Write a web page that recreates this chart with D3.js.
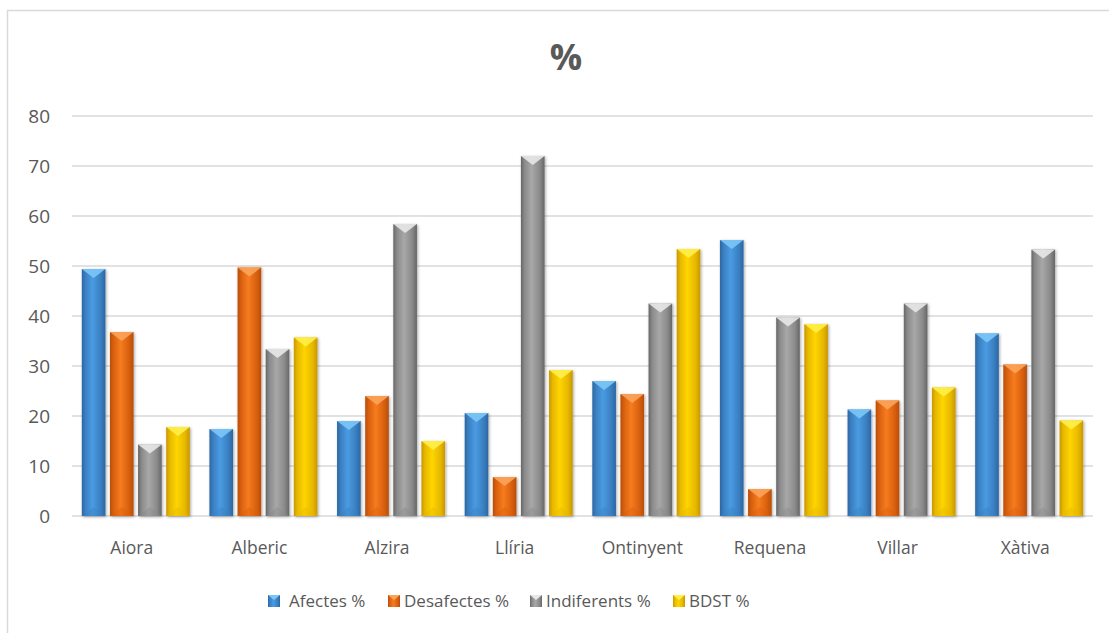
<!DOCTYPE html>
<html>
<head>
<meta charset="utf-8">
<script src="https://cdn.jsdelivr.net/npm/d3@7"></script>
<style>
  body { margin: 0; background: #fff; }
  svg { display: block; }
  text { font-family: "Open Sans", "Noto Sans", sans-serif; fill: #595959; }
</style>
</head>
<body>
<div id="chart"></div>
<script>
// data
const categories = ["Aiora", "Alberic", "Alzira", "Llíria", "Ontinyent", "Requena", "Villar", "Xàtiva"];
const seriesNames = ["Afectes %", "Desafectes %", "Indiferents %", "BDST %"];
const afectes     = [49.4, 17.4, 19.0, 20.6, 27.0, 55.2, 21.3, 36.5];
const desafectes  = [36.8, 49.7, 24.0, 7.8, 24.4, 5.4, 23.1, 30.3];
const indiferents = [14.3, 33.4, 58.4, 72.0, 42.5, 39.7, 42.5, 53.3];
const bdst        = [17.8, 35.7, 15.0, 29.2, 53.4, 38.4, 25.7, 19.1];
const yTicks = [0, 10, 20, 30, 40, 50, 60, 70, 80];

const series = [afectes, desafectes, indiferents, bdst];

// colours: [edge, centre, top facet, bottom facet]
const palette = [
  ["#2b66a3", "#4a9be3", "#7cc6f7", "#3a7fc0"],
  ["#b84d08", "#f67c1e", "#fba35a", "#d9600f"],
  ["#666666", "#a8a8a8", "#e8e8e8", "#8a8a8a"],
  ["#c99700", "#ffd500", "#fff04a", "#e6b800"]
];

const width = 1109, height = 633;
const margin = { left: 72, right: 16, top: 116, bottom: 117 };

const svg = d3.select("#chart").append("svg")
    .attr("width", width)
    .attr("height", height);

const defs = svg.append("defs");
palette.forEach((p, i) => {
  const g = defs.append("linearGradient").attr("id", "grad" + i)
      .attr("x1", 0).attr("x2", 1).attr("y1", 0).attr("y2", 0);
  g.append("stop").attr("offset", "0%").attr("stop-color", p[0]);
  g.append("stop").attr("offset", "15%").attr("stop-color", p[3]);
  g.append("stop").attr("offset", "45%").attr("stop-color", p[1]);
  g.append("stop").attr("offset", "80%").attr("stop-color", p[3]);
  g.append("stop").attr("offset", "100%").attr("stop-color", p[0]);
});
const shadow = defs.append("filter").attr("id", "shadow")
    .attr("x", "-30%").attr("y", "-10%").attr("width", "160%").attr("height", "120%");
shadow.append("feGaussianBlur").attr("in", "SourceAlpha").attr("stdDeviation", 1.5);
shadow.append("feOffset").attr("dx", 1).attr("dy", 1).attr("result", "b");
shadow.append("feComponentTransfer").append("feFuncA").attr("type", "linear").attr("slope", 0.35);
const merge = shadow.append("feMerge");
merge.append("feMergeNode");
merge.append("feMergeNode").attr("in", "SourceGraphic");

// chart border
svg.append("rect")
    .attr("x", 7.5).attr("y", 10.5)
    .attr("width", width + 20).attr("height", height + 20)
    .attr("fill", "none").attr("stroke", "#d9d9d9").attr("stroke-width", 1.5);

const x = d3.scaleBand()
    .domain(categories)
    .range([margin.left, width - margin.right]);

const xInner = d3.scaleBand()
    .domain(d3.range(series.length))
    .range([0, 108])
    .paddingInner(0.16);

const y = d3.scaleLinear()
    .domain([0, 80])
    .range([height - margin.bottom, margin.top]);

// gridlines
svg.append("g")
  .selectAll("line")
  .data(yTicks)
  .join("line")
    .attr("x1", margin.left).attr("x2", width - margin.right)
    .attr("y1", d => y(d)).attr("y2", d => y(d))
    .attr("stroke", "#d9d9d9").attr("stroke-width", 1.5);

// y labels
svg.append("g")
  .selectAll("text")
  .data(yTicks)
  .join("text")
    .attr("x", 50).attr("y", d => y(d))
    .attr("dy", "0.35em")
    .attr("text-anchor", "end")
    .style("font-size", "19px")
    .text(d => d);

// x labels
svg.append("g")
  .selectAll("text")
  .data(categories)
  .join("text")
    .attr("x", d => x(d) + x.bandwidth() / 2 - 4)
    .attr("y", 548)
    .attr("dy", "0.35em")
    .attr("text-anchor", "middle")
    .style("font-size", "17.5px")
    .text(d => d);

// bars
const groupOffset = (x.bandwidth() - 108) / 2;
series.forEach((vals, si) => {
  const p = palette[si];
  const g = svg.append("g");
  const bars = g.selectAll("g")
    .data(categories.map((c, i) => ({ c, v: vals[i] })))
    .join("g")
      .attr("filter", "url(#shadow)");
  const bw = xInner.bandwidth();
  bars.append("rect")
      .attr("x", d => x(d.c) + groupOffset + xInner(si))
      .attr("y", d => y(d.v))
      .attr("width", bw)
      .attr("height", d => y(0) - y(d.v))
      .attr("fill", `url(#grad${si})`);
  // top facet
  bars.append("path")
      .attr("d", d => {
        const x0 = x(d.c) + groupOffset + xInner(si), y0 = y(d.v);
        return `M${x0},${y0}L${x0 + bw},${y0}L${x0 + bw / 2},${y0 + 9}Z`;
      })
      .attr("fill", p[2]).attr("opacity", 0.9);
  // bottom facet
  bars.append("path")
      .attr("d", d => {
        const x0 = x(d.c) + groupOffset + xInner(si), y0 = y(0);
        return `M${x0},${y0}L${x0 + bw},${y0}L${x0 + bw / 2},${y0 - 9}Z`;
      })
      .attr("fill", p[3]).attr("opacity", 0.4);
});

// title
svg.append("text")
    .attr("x", 566).attr("y", 70)
    .attr("text-anchor", "middle")
    .style("font-size", "36px")
    .style("font-weight", "bold")
    .text("%");

// legend
const legendX = [268, 388, 530, 673];
const legend = svg.append("g")
  .selectAll("g")
  .data(seriesNames)
  .join("g")
    .attr("transform", (d, i) => `translate(${legendX[i]},595)`);
legend.append("rect")
    .attr("width", 12).attr("height", 12)
    .attr("fill", (d, i) => `url(#grad${i})`);
legend.append("path")
    .attr("d", "M0,0L12,0L6,5Z")
    .attr("fill", (d, i) => palette[i][2]);
legend.append("text")
    .attr("x", (d, i) => i === 0 ? 21 : 16)
    .attr("y", 6)
    .attr("dy", "0.35em")
    .style("font-size", "17px")
    .text(d => d);
</script>
</body>
</html>
